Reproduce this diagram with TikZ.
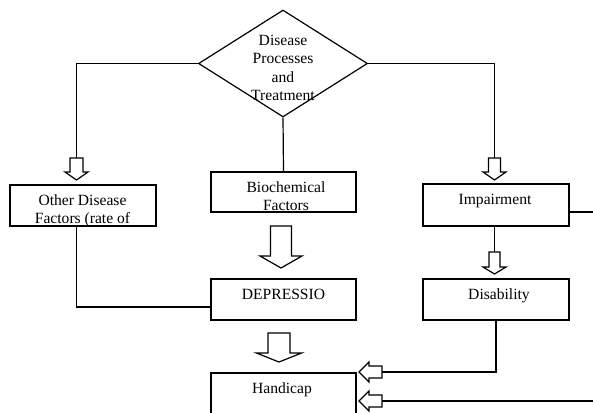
\documentclass[tikz,border=0pt]{standalone}
\usepackage{fontspec}
\setmainfont{Liberation Serif}
\usetikzlibrary{shapes.geometric}

\tikzset{
  box/.style={draw, line width=1.2pt, minimum width=145pt, minimum height=41pt, inner sep=0pt},
  txt/.style={inner sep=0pt, anchor=north, align=center, font=\fontsize{15.6}{18.5}\selectfont},
  link/.style={line width=1.2pt},
  pics/hollow/.style n args={4}{code={
    \draw[link, fill=white] (-#3,0) -- (-#3,#1-#2) -- (-#4,#1-#2) -- (0,#1)
      -- (#4,#1-#2) -- (#3,#1-#2) -- (#3,0) -- cycle;
  }},
}

\begin{document}
\begin{tikzpicture}[x=1pt, y=-1pt]
    \clip (0,0) rectangle (593,412);

    % Decision
    \node[diamond, draw, line width=1.2pt, minimum width=169pt, minimum height=107pt, inner sep=0pt] (dp) at (283,63.5) {};
    \node[txt] (dp-t) at (283,34.5) {Disease\\Processes\\and\\Treatment};

    % Second row
    \node[box, minimum width=146pt] (ot) at (83,205.5) {};
    \node[box, minimum height=40pt] (bio) at (283.5,192) {};
    \node[box, minimum width=146pt, minimum height=42pt] (imp) at (496,205) {};
    \node[txt] (ot-t) at ([xshift=-0.5pt,yshift=-10pt]ot.north) {Other Disease\\Factors (rate of};
    \node[txt] (bio-t) at ([xshift=2.5pt,yshift=-10pt]bio.north) {Biochemical\\Factors};
    \node[txt] (imp-t) at ([xshift=-1pt,yshift=-11pt]imp.north) {Impairment};

    % Third row
    \node[box] (dep) at (283.5,299.5) {};
    \node[box, minimum width=146pt] (dis) at (496,299.5) {};
    \node[txt] (dep-t) at ([yshift=-11pt]dep.north) {DEPRESSIO};
    \node[txt] (dis-t) at ([xshift=3pt,yshift=-10pt]dis.north) {Disability};

    % Bottom
    \node[box] (han) at (283.5,393.5) {};
    \node[txt] (han-t) at ([xshift=-1.5pt,yshift=-10pt]han.north) {Handicap};

    % Arrow tails
    \coordinate (aL) at (76.5,158);
    \coordinate (aR) at (494.5,158);
    \coordinate (aM) at (494.5,252);
    \coordinate (aB) at (281,226);
    \coordinate (aD) at (279,333);
    \coordinate (hA) at (382,372);
    \coordinate (hB) at (382,401);

    % Connections
    \draw[link] (dp.west) -| (aL);
    \draw[link] (dp.east) -| (aR);
    \draw[link] (dp.south) -- (bio.north);
    \draw[link] (ot.south -| aL) |- ([yshift=-7.5pt]dep.west);
    \draw[link] (imp.south -| aM) -- (aM);
    \draw[link] (dis.south) |- (hA);
    \draw[link] ([yshift=-7pt]imp.east) -- (600,212) |- (hB);

    % Block arrows
    \pic at (aL) {hollow={22}{8}{6.5}{11.5}};
    \pic at (aR) {hollow={22}{8}{6}{11.5}};
    \pic at (aM) {hollow={22}{7}{5.5}{11.5}};
    \pic at (aB) {hollow={42}{12}{10.5}{21}};
    \pic at (aD) {hollow={29}{9}{11}{22.5}};
    \pic[rotate=-90] at (hA) {hollow={23}{10}{6}{10}};
    \pic[rotate=-90] at (hB) {hollow={23}{10}{6}{10}};
\end{tikzpicture}
\end{document}
